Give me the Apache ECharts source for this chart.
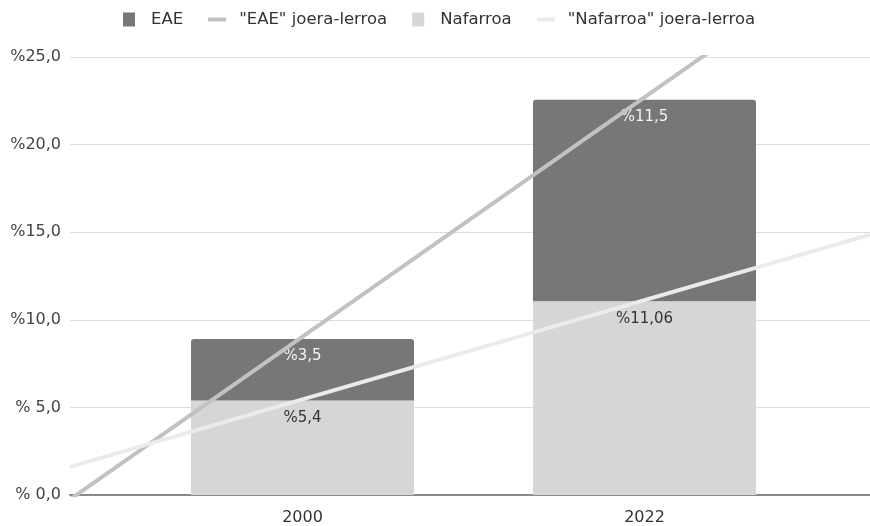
<!DOCTYPE html>
<html lang="eu">
<head>
    <meta charset="UTF-8">
    <title>EAE eta Nafarroa</title>
    <script src="https://cdn.jsdelivr.net/npm/echarts@6.0.0/dist/echarts.min.js"></script>
    <style>
        body { margin: 0; background: #fff; }
        #chart { width: 870px; height: 526px; }
    </style>
</head>
<body>
    <div id="chart"></div>
    <script>
        var years = ['2000', '2022'];
        var nafarroa = [5.4, 11.06];
        var eae = [3.5, 11.5];
        var nafarroaLabels = ['%5,4', '%11,06'];
        var eaeLabels = ['%3,5', '%11,5'];
        var yTicks = [0, 5, 10, 15, 20, 25];

        // trend lines live on a continuous axis: bar i sits at x = i
        var xMin = -0.67, xMax = 1.67;

        // least squares line through the (stacked) bar tops
        function trend(vals) {
            var n = vals.length, sx = 0, sy = 0, sxy = 0, sxx = 0;
            vals.forEach(function (v, i) { sx += i; sy += v; sxy += i * v; sxx += i * i; });
            var b = (n * sxy - sx * sy) / (n * sxx - sx * sx);
            var a = (sy - b * sx) / n;
            return [[xMin, a + b * xMin], [xMax, a + b * xMax]];
        }

        var totals = eae.map(function (v, i) { return v + nafarroa[i]; });

        var font = 'DejaVu Sans';
        var sq = 'path://M0,0h12v14h-12z';
        var ln = 'path://M0,0h18v4h-18z';

        var chart = echarts.init(document.getElementById('chart'));
        chart.setOption({
            animation: false,
            textStyle: { fontFamily: font },
            legend: {
                top: 6,
                left: 118,
                itemGap: 25,
                itemWidth: 18,
                itemHeight: 14,
                textStyle: { fontSize: 16.5, color: '#333', padding: [0, 0, 0, 8] },
                data: [
                    { name: 'EAE', icon: sq },
                    { name: '"EAE" joera-lerroa', icon: ln },
                    { name: 'Nafarroa', icon: sq },
                    { name: '"Nafarroa" joera-lerroa', icon: ln }
                ]
            },
            grid: [
                { left: 70, right: 0, top: 57, bottom: 31 },
                // bar grid: one 342px band per year, centred on x = 302 and 644
                { left: 131.5, right: 54.5, top: 57, bottom: 31 }
            ],
            xAxis: [
                {
                    type: 'value',
                    gridIndex: 0,
                    min: xMin,
                    max: xMax,
                    splitLine: { show: false },
                    axisTick: { show: false },
                    axisLabel: { show: false },
                    axisLine: { lineStyle: { color: '#8a8a8a', width: 2 } }
                },
                {
                    type: 'category',
                    gridIndex: 1,
                    data: years,
                    axisLine: { show: false },
                    axisTick: { show: false },
                    axisLabel: { color: '#333', fontSize: 16, margin: 15 }
                }
            ],
            yAxis: [
                {
                    type: 'value',
                    gridIndex: 0,
                    min: yTicks[0],
                    max: yTicks[yTicks.length - 1],
                    interval: 5,
                    axisLine: { show: false },
                    axisTick: { show: false },
                    splitLine: { lineStyle: { color: '#dedede' } },
                    axisLabel: {
                        color: '#444',
                        fontSize: 16,
                        margin: 9,
                        formatter: function (v) {
                            return '%' + (v < 10 ? ' ' : '') + v.toFixed(1).replace('.', ',');
                        }
                    }
                },
                {
                    type: 'value',
                    gridIndex: 1,
                    min: yTicks[0],
                    max: yTicks[yTicks.length - 1],
                    show: false
                }
            ],
            series: [
                {
                    name: 'Nafarroa',
                    type: 'bar',
                    stack: 'a',
                    xAxisIndex: 1,
                    yAxisIndex: 1,
                    barWidth: 223,
                    color: '#d6d6d6',
                    data: nafarroa,
                    label: {
                        show: true,
                        position: 'insideTop',
                        distance: 10,
                        color: '#333',
                        fontSize: 15,
                        formatter: function (p) { return nafarroaLabels[p.dataIndex]; }
                    }
                },
                {
                    name: 'EAE',
                    type: 'bar',
                    stack: 'a',
                    xAxisIndex: 1,
                    yAxisIndex: 1,
                    barWidth: 223,
                    color: '#777777',
                    itemStyle: { borderRadius: [3, 3, 0, 0] },
                    data: eae,
                    label: {
                        show: true,
                        position: 'insideTop',
                        distance: 10,
                        color: '#f4f4f4',
                        fontSize: 15,
                        formatter: function (p) { return eaeLabels[p.dataIndex]; }
                    }
                },
                {
                    name: '"EAE" joera-lerroa',
                    type: 'line',
                    symbol: 'none',
                    color: '#c2c2c2',
                    lineStyle: { width: 4, color: '#c2c2c2' },
                    z: 5,
                    data: trend(totals)
                },
                {
                    name: '"Nafarroa" joera-lerroa',
                    type: 'line',
                    symbol: 'none',
                    color: '#ebebeb',
                    lineStyle: { width: 4, color: '#ebebeb' },
                    z: 5,
                    data: trend(nafarroa)
                }
            ]
        });
    </script>
</body>
</html>
